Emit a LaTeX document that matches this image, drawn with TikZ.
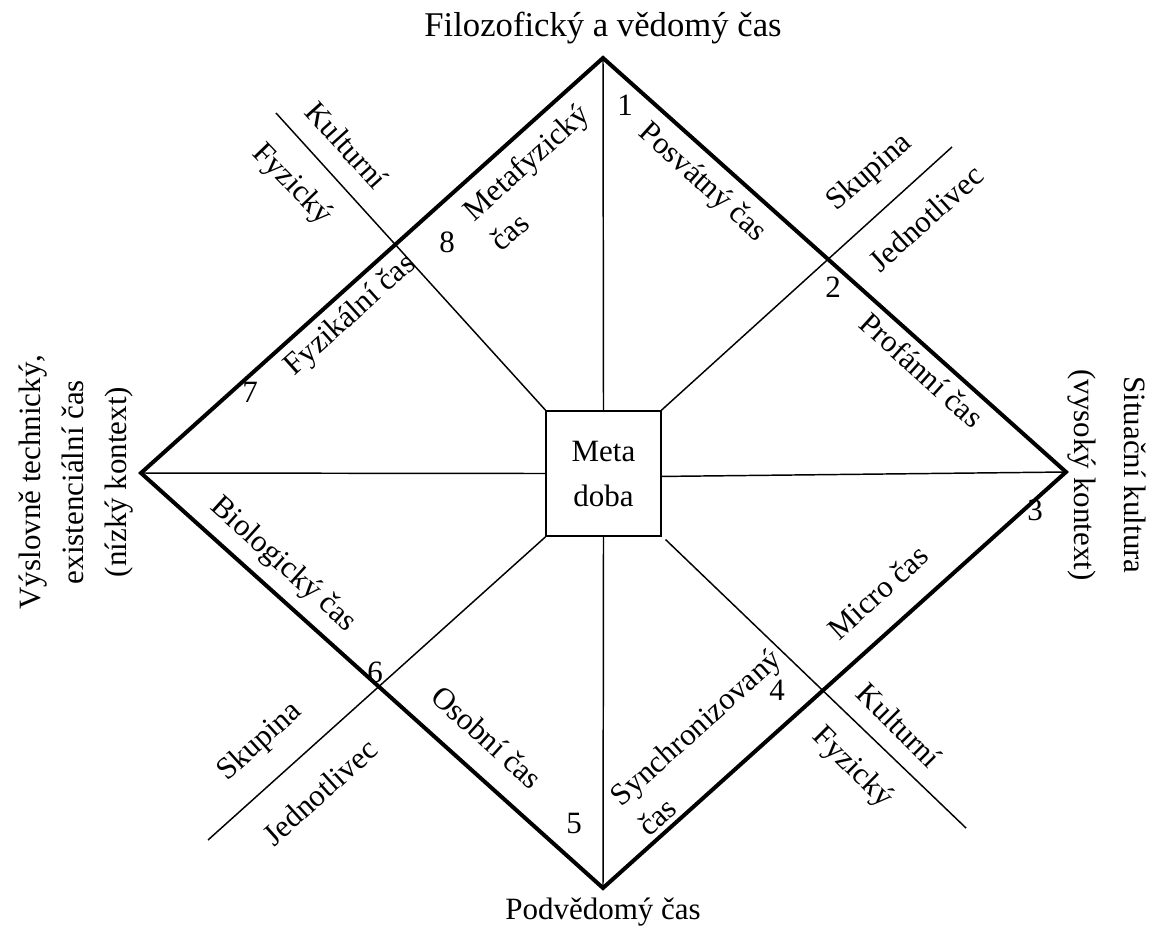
\documentclass[tikz,border=0pt]{standalone}
\usepackage{fontspec}
\setmainfont{Liberation Serif}
\begin{document}
\begin{tikzpicture}[x=0.75pt,y=-0.75pt,
  lbl/.style={font=\fontsize{23.25}{28}\selectfont, inner sep=0pt},
  twoline/.style={lbl, align=left, font=\fontsize{23.25}{30.5}\selectfont},
  edgeline/.style={line width=3pt, line join=miter},
  conn/.style={line width=1.1pt},
  metabox/.style={draw, line width=1.1pt, minimum width=86pt, minimum height=94pt, inner sep=0pt, align=center, font=\fontsize{23.25}{33.75}\selectfont}]
\useasboundingbox (0,0) rectangle (1149,929);
% vertices
\coordinate (T) at (603,58);
\coordinate (R) at (1066,472);
\coordinate (B) at (603,888);
\coordinate (L) at (141,473);
% central box
\node[metabox] (meta) at (603.5,473.5) {Meta\\doba};
% free ends of crossing lines
\coordinate (ulend) at (276,113);
\coordinate (urend) at (952,147);
\coordinate (llend) at (208,840);
\coordinate (lrend) at (966,828);
% connectors
\draw[conn] (T) -- (meta.north);
\draw[conn] (B) -- (meta.south);
\draw[conn] (L) -- (meta.west);
\draw[conn] (R) -- ([yshift=-2.2pt]meta.east);
\draw[conn] (meta.north west) -- (ulend);
\draw[conn] (meta.north east) -- (urend);
\draw[conn] (meta.south west) -- (llend);
\draw[conn] ([xshift=3pt,yshift=-2pt]meta.south east) -- (lrend);
% diamond
\draw[edgeline] (T) -- (R) -- (B) -- (L) -- cycle;
% outer labels
\node[lbl, font=\fontsize{26}{30}\selectfont] (top) at (603,28) {Filozofický a vědomý čas};
\node[lbl] (bottom) at (603,912) {Podvědomý čas};
\node[lbl, rotate=90, align=center, font=\fontsize{23.25}{32.5}\selectfont] (left) at (76,482) {Výslovně technický,\\existenciální čas\\(nízký kontext)};
\node[lbl, rotate=-90, align=center, font=\fontsize{23.25}{37.5}\selectfont] (right) at (1107,475) {Situační kultura\\(vysoký kontext)};
% sector labels
\node[twoline, rotate=42] (s8) at (539,177) {Metafyzický\\čas};
\node[lbl, rotate=-42] (s1) at (702,183) {Posvátný čas};
\node[lbl, rotate=-42] (s2) at (922,370) {Profánní čas};
\node[lbl, rotate=42] (s3) at (878,592) {Micro čas};
\node[twoline, rotate=42] (s4) at (709,742) {Synchronizovaný\\čas};
\node[lbl, rotate=-42] (s5) at (487,737) {Osobní čas};
\node[lbl, rotate=-42] (s6) at (283,565) {Biologický čas};
\node[lbl, rotate=42] (s7) at (351,316) {Fyzikální čas};
% numbers
\node[lbl] (n1) at (625,105) {1};
\node[lbl] (n2) at (833,287) {2};
\node[lbl] (n3) at (1035,510) {3};
\node[lbl] (n4) at (777,690) {4};
\node[lbl] (n5) at (574,823) {5};
\node[lbl] (n6) at (375,672) {6};
\node[lbl] (n7) at (250,392) {7};
\node[lbl] (n8) at (447,242) {8};
% axis labels
\node[lbl, rotate=-48] (kul1) at (347,145) {Kulturní};
\node[lbl, rotate=-46] (fyz1) at (292,185) {Fyzický};
\node[lbl, rotate=41] (sk1) at (870,173) {Skupina};
\node[lbl, rotate=42] (jed1) at (926,218) {Jednotlivec};
\node[lbl, rotate=42] (sk2) at (260,742) {Skupina};
\node[lbl, rotate=42] (jed2) at (320,792) {Jednotlivec};
\node[lbl, rotate=-45] (kul2) at (899,725) {Kulturní};
\node[lbl, rotate=-45] (fyz2) at (852,768) {Fyzický};
\end{tikzpicture}
\end{document}
